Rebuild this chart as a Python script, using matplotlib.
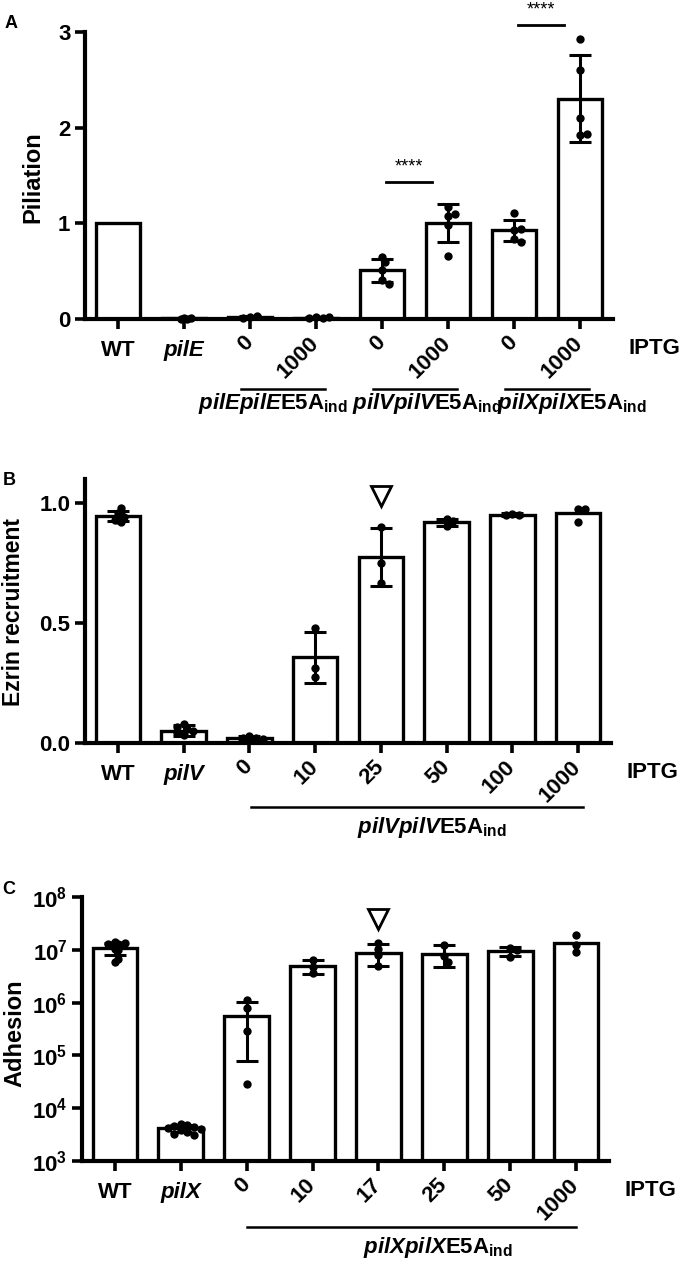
import numpy as np
import matplotlib
matplotlib.use('Agg')
import matplotlib.pyplot as plt
from matplotlib import font_manager

# =========================
# DATA
# =========================
# panel A : piliation
a_labels = ['WT', 'pilE', '0', '1000', '0', '1000', '0', '1000']
a_mean = [1.0, 0.01, 0.02, 0.015, 0.51, 1.0, 0.93, 2.30]
a_sd = [None, None, 0.01, 0.005, 0.12, 0.20, 0.11, 0.455]
a_points = [
    [],
    [0.01, 0.0, 0.005, 0.01],
    [0.02, 0.035, 0.015],
    [0.02, 0.01, 0.015, 0.02],
    [0.65, 0.60, 0.51, 0.41, 0.37],
    [1.17, 1.08, 1.10, 0.98, 0.66],
    [1.11, 0.93, 0.94, 0.84, 0.81],
    [2.93, 2.60, 2.10, 1.92, 1.93],
]
a_groups = [('pilEpilE', 2, 3), ('pilVpilV', 4, 5), ('pilXpilX', 6, 7)]
a_sig = [(4, 5, 1.43), (6, 7, 3.07)]

# panel B : ezrin recruitment
b_labels = ['WT', 'pilV', '0', '10', '25', '50', '100', '1000']
b_mean = [0.945, 0.052, 0.022, 0.357, 0.774, 0.92, 0.952, 0.96]
b_sd = [0.02, 0.022, 0.006, 0.105, 0.12, 0.015, 0.005, None]
b_points = [
    [0.96, 0.98, 0.93, 0.92, 0.93, 0.94, 0.95],
    [0.08, 0.06, 0.065, 0.05, 0.035, 0.04],
    [0.03, 0.02, 0.02, 0.018],
    [0.478, 0.311, 0.276],
    [0.901, 0.751, 0.665],
    [0.935, 0.925, 0.905],
    [0.955, 0.95, 0.952],
    [0.977, 0.977, 0.922],
]
b_group = ('pilVpilV', 2, 7)
b_flag = [(4, 1.03)]

# panel C : adhesion
c_labels = ['WT', 'pilX', '0', '10', '17', '25', '50', '1000']
c_mean = [1.08e7, 4.2e3, 5.6e5, 5.0e6, 8.8e6, 8.5e6, 9.4e6, 1.36e7]
c_sd = [2.8e6, 0.6e3, 4.8e5, 1.5e6, 3.9e6, 3.7e6, 1.9e6, None]
c_points = [
    [1.4e7, 1.3e7, 1.25e7, 1.25e7, 1.3e7, 1.35e7, 1.05e7, 1.0e7, 6.0e6, 6.8e6],
    [5.0e3, 4.8e3, 4.6e3, 4.4e3, 4.2e3, 4.0e3, 3.8e3, 3.5e3, 3.2e3, 3.1e3],
    [1.1e6, 8.0e5, 2.9e5, 2.9e4],
    [6.4e6, 4.8e6, 3.6e6],
    [1.35e7, 1.05e7, 7.9e6, 4.9e6],
    [1.25e7, 7.5e6, 6.0e6],
    [1.1e7, 1.0e7, 7.4e6],
    [1.9e7, 1.26e7, 8.9e6],
]
c_group = ('pilXpilX', 2, 7)
c_flag = [(4, 3.8e7)]

# =========================
# STYLE
# =========================
W, H, DPI = 685, 1267, 100
names = {f.name for f in font_manager.fontManager.ttflist}
NARROW = 'Liberation Sans Narrow' if 'Liberation Sans Narrow' in names else 'Liberation Sans'

plt.rcParams['font.family'] = [NARROW, 'DejaVu Sans']
plt.rcParams['font.weight'] = 'bold'
plt.rcParams['mathtext.fontset'] = 'custom'
plt.rcParams['mathtext.rm'] = NARROW + ':bold'
plt.rcParams['mathtext.bf'] = NARROW + ':bold'
plt.rcParams['mathtext.it'] = NARROW + ':italic:bold'

TICK_FS = 16
LAB_FS = 16
BAR_W = 0.68
LW = 2.4

fig = plt.figure(figsize=(W / DPI, H / DPI), dpi=DPI)


def add_axes_px(left, right, top, bottom):
    return fig.add_axes([left / W, 1 - bottom / H, (right - left) / W, (bottom - top) / H])


def below(ax, dpx):
    return -dpx / (ax.get_position().height * H)


def swarm(ax, i, vals, min_dist=5.5, step=0.05):
    # simple deterministic beeswarm: nearest free slot around the bar centre
    placed, offs = [], []
    cands = [0.0]
    for n in range(1, 15):
        cands += [n * step, -n * step]
    for v in vals:
        for c in cands:
            xd, yd = ax.transData.transform((i + c, v))
            if all((xd - px) ** 2 + (yd - py) ** 2 >= min_dist ** 2 for px, py in placed):
                break
        placed.append((xd, yd))
        offs.append(c)
    return offs


def draw_panel(ax, labels, mean, sd, points, italic_idx, bottom=0):
    x = np.arange(len(labels))
    heights = [m - bottom for m in mean]
    ax.bar(x, heights, bottom=bottom, width=BAR_W, color='white',
           edgecolor='black', linewidth=LW, zorder=2)
    for i, (m, s) in enumerate(zip(mean, sd)):
        if s is None:
            continue
        ax.errorbar(i, m, yerr=s, fmt='none', ecolor='black', elinewidth=2.2,
                    capsize=8, capthick=2.2, zorder=4)
    for i, vals in enumerate(points):
        if not vals:
            continue
        offs = swarm(ax, i, vals)
        ax.scatter(i + np.array(offs), vals, s=36, color='black', zorder=5,
                   linewidths=0, clip_on=False)

    for side in ['top', 'right']:
        ax.spines[side].set_visible(False)
    for side in ['left', 'bottom']:
        ax.spines[side].set_linewidth(3)
    ax.tick_params(direction='out', length=7, width=2.6, labelsize=TICK_FS)
    ax.tick_params(axis='x', pad=8)
    ax.set_xticks(x)
    ax.set_xticklabels(labels)
    for k, t in enumerate(ax.get_xticklabels()):
        t.set_fontsize(TICK_FS)
        if k in italic_idx:
            t.set_fontstyle('italic')
        if k >= 2:
            t.set_rotation(45)
            t.set_rotation_mode('anchor')
            t.set_ha('right')
            t.set_va('center')
    ax.set_xlim(-0.5, 7.5)
    ax.text(1.03, below(ax, 30), 'IPTG', transform=ax.transAxes, ha='left',
            va='center', fontsize=TICK_FS, clip_on=False)


# =========================
# PANEL A
# =========================
axA = add_axes_px(85, 613, 32, 319)
axA.set_ylim(0, 3)
axA.set_yticks([0, 1, 2, 3])
draw_panel(axA, a_labels, a_mean, a_sd, a_points, italic_idx=[1])

trA = axA.get_xaxis_transform()
label_shift = [-0.15, 0.18, 0.38]
for (name, i0, i1), sh in zip(a_groups, label_shift):
    c = (i0 + i1) / 2
    axA.plot([c - 0.63, c + 0.63], [below(axA, 70)] * 2, color='black', lw=1.8,
             transform=trA, clip_on=False)
    axA.text(c + sh, below(axA, 84),
             r'$\mathit{' + name + r'}\mathbf{E5A}_{\mathbf{ind}}$',
             transform=trA, ha='center', va='center', fontsize=LAB_FS, clip_on=False)

for i0, i1, y in a_sig:
    axA.plot([i0 + 0.06, i1 - 0.24], [y, y], color='black', lw=2, clip_on=False)
    axA.text((i0 + i1) / 2 - 0.09, y + 0.16, '****', ha='center', va='center',
             fontsize=13, fontweight='normal', family='Liberation Sans', clip_on=False)

# =========================
# PANEL B
# =========================
axB = add_axes_px(85, 611, 479, 743)
axB.set_ylim(0, 1.1)
axB.set_yticks([0, 0.5, 1.0])
axB.set_yticklabels(['0.0', '0.5', '1.0'])
draw_panel(axB, b_labels, b_mean, b_sd, b_points, italic_idx=[1])

trB = axB.get_xaxis_transform()
name, i0, i1 = b_group
c = (i0 + i1) / 2
axB.plot([i0 + 0.02, i1 + 0.08], [below(axB, 64)] * 2, color='black', lw=1.8,
         transform=trB, clip_on=False)
axB.text(c + 0.27, below(axB, 85),
         r'$\mathit{' + name + r'}\mathbf{E5A}_{\mathbf{ind}}$',
         transform=trB, ha='center', va='center', fontsize=LAB_FS, clip_on=False)
for i, y in b_flag:
    axB.plot(i, y, marker='v', markersize=15, mfc='white', mec='black', mew=2,
             clip_on=False, zorder=6)

# =========================
# PANEL C
# =========================
axC = add_axes_px(82, 609, 897, 1161)
axC.set_yscale('log')
axC.set_ylim(1e3, 1e8)
draw_panel(axC, c_labels, c_mean, c_sd, c_points, italic_idx=[1], bottom=1e3)
axC.set_yticks([10.0 ** k for k in range(3, 9)])
axC.set_yticklabels([r'$\mathbf{10^{%d}}$' % k for k in range(3, 9)])
axC.minorticks_off()

trC = axC.get_xaxis_transform()
name, i0, i1 = c_group
c = (i0 + i1) / 2
axC.plot([i0, i1], [below(axC, 66)] * 2, color='black', lw=1.8,
         transform=trC, clip_on=False)
axC.text(c + 0.4, below(axC, 86),
         r'$\mathit{' + name + r'}\mathbf{E5A}_{\mathbf{ind}}$',
         transform=trC, ha='center', va='center', fontsize=LAB_FS, clip_on=False)
for i, y in c_flag:
    axC.plot(i, y, marker='v', markersize=15, mfc='white', mec='black', mew=2,
             clip_on=False, zorder=6)

# =========================
# AXIS TITLES / PANEL LETTERS
# =========================
fig.text(33 / W, 1 - 177 / H, 'Piliation', rotation=90, ha='center', va='center',
         fontsize=17, family='Liberation Sans', fontweight='bold')
fig.text(14 / W, 1 - 612 / H, 'Ezrin recruitment', rotation=90, ha='center',
         va='center', fontsize=16.5, family='Liberation Sans', fontweight='bold')
fig.text(15 / W, 1 - 1033 / H, 'Adhesion', rotation=90, ha='center', va='center',
         fontsize=17, family='Liberation Sans', fontweight='bold')

for letter, (px, py) in zip('ABC', [(11, 23), (9, 480), (9, 890)]):
    fig.text(px / W, 1 - py / H, letter, ha='center', va='center', fontsize=13)

fig.savefig('out.png', dpi=DPI)
